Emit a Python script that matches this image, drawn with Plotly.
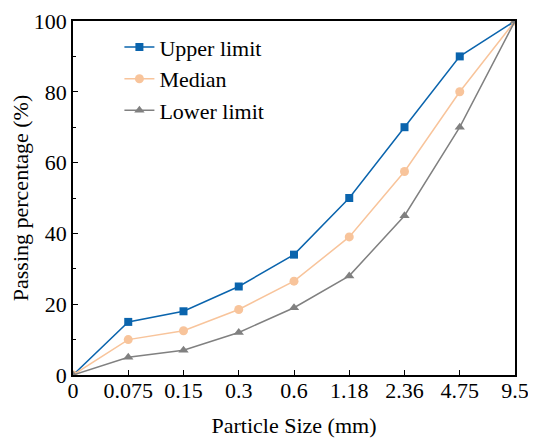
import plotly.graph_objects as go

sizes = ["0", "0.075", "0.15", "0.3", "0.6", "1.18", "2.36", "4.75", "9.5"]
upper = [0, 15, 18, 25, 34, 50, 70, 90, 100]
median = [0, 10, 12.5, 18.5, 26.5, 39, 57.5, 80, 100]
lower = [0, 5, 7, 12, 19, 28, 45, 70, 100]

fig = go.Figure()
fig.add_trace(go.Scatter(x=sizes, y=upper, name="Upper limit", mode="lines+markers",
                         line=dict(color="#0a64ad", width=1.5),
                         marker=dict(symbol="square", size=8, color="#0a64ad")))
fig.add_trace(go.Scatter(x=sizes, y=median, name="Median", mode="lines+markers",
                         line=dict(color="#f8c49b", width=1.5),
                         marker=dict(symbol="circle", size=9, color="#f8c49b")))
fig.add_trace(go.Scatter(x=sizes, y=lower, name="Lower limit", mode="lines+markers",
                         line=dict(color="#808080", width=1.5),
                         marker=dict(symbol="triangle-up", size=9, color="#808080")))

# page has ~8px body margin, so the figure is a bit smaller than the window
font = "Liberation Serif, Times New Roman, serif"
fig.update_layout(
    width=520, height=432,
    margin=dict(l=65, r=13, t=13, b=65),
    plot_bgcolor="white", paper_bgcolor="white",
    font=dict(family=font, size=22, color="black"),
    showlegend=True,
    legend=dict(x=0.105, y=0.985, xanchor="left", yanchor="top",
                bgcolor="rgba(0,0,0,0)", font=dict(size=22),
                tracegroupgap=0),
)
fig.update_xaxes(
    type="category", range=[0, 8], automargin=False,
    showline=True, linecolor="black", linewidth=1.5, mirror=True,
    ticks="inside", ticklen=5, tickcolor="black",
    showgrid=False, zeroline=False, ticklabeloverflow="allow",
    ticklabelstandoff=-5,
    title=dict(text="Particle Size (mm)", font=dict(size=22), standoff=15),
)
fig.update_yaxes(
    range=[0, 100], dtick=20, automargin=False,
    showline=True, linecolor="black", linewidth=1.5, mirror=True,
    ticks="inside", ticklen=5, tickcolor="black",
    minor=dict(dtick=10, ticks="inside", ticklen=3, tickcolor="black"),
    showgrid=False, zeroline=False, ticklabeloverflow="allow",
    title=dict(text="Passing percentage (%)", font=dict(size=22), standoff=17),
)

fig.write_html("out.html")
